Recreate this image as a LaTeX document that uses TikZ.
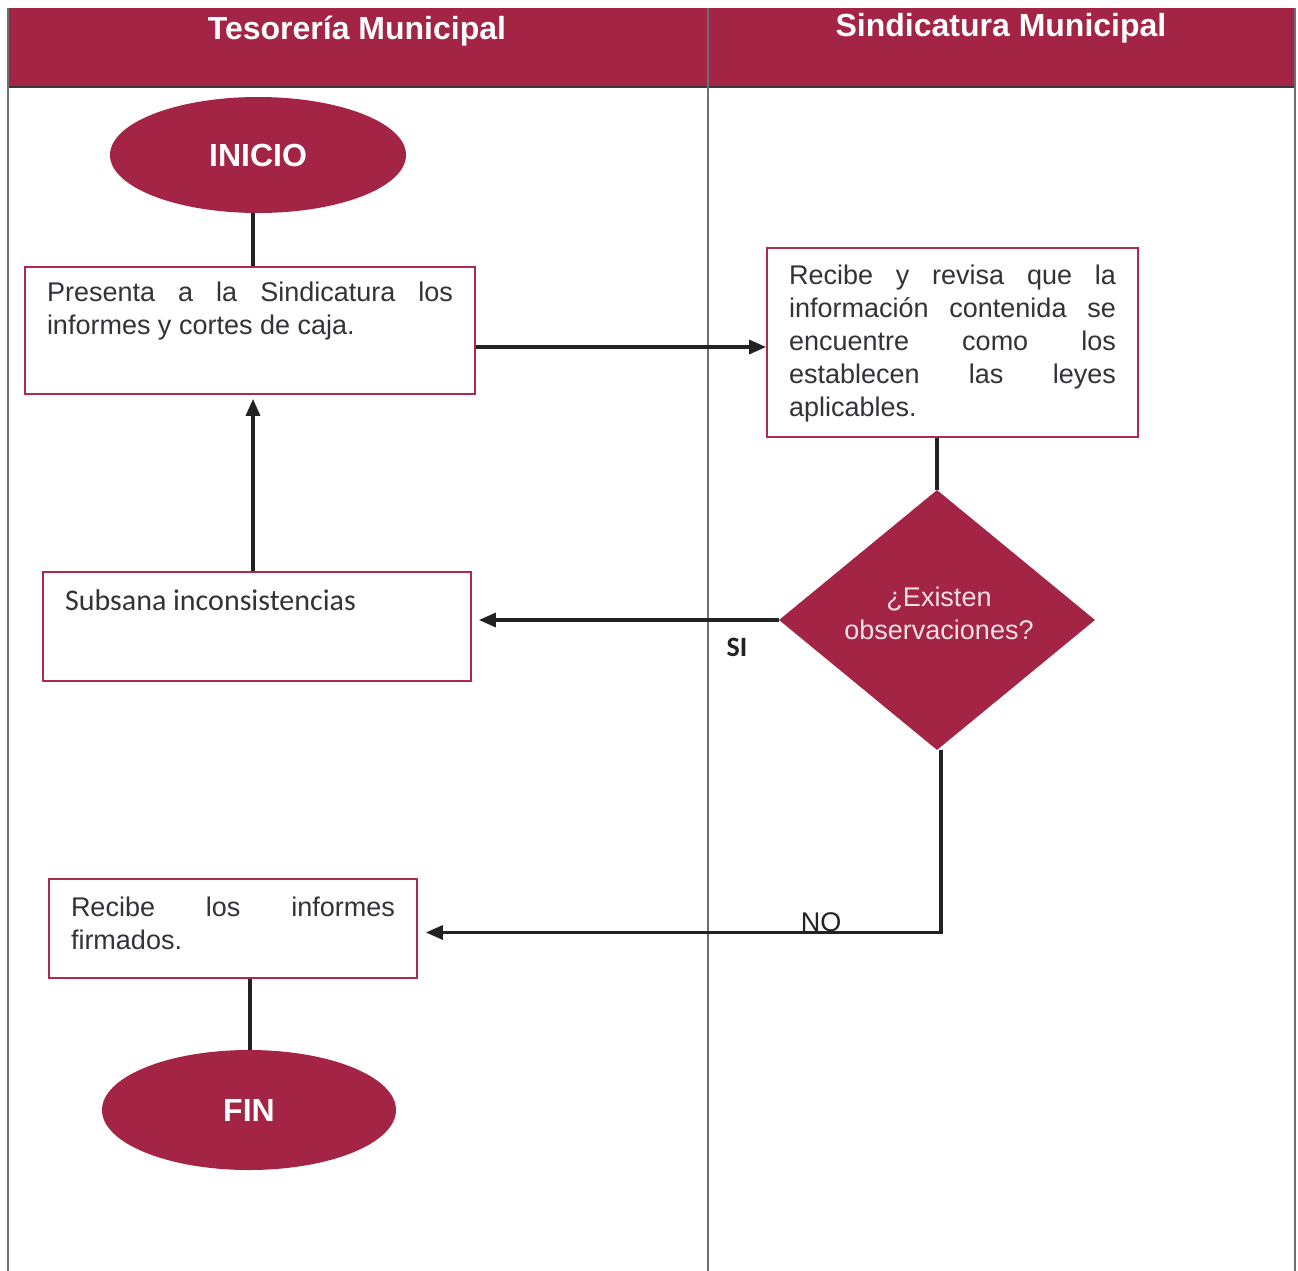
\documentclass[tikz,border=0pt]{standalone}
\usepackage{fontspec}
\setmainfont{Liberation Sans}
\newfontfamily\calibri{Carlito}
\usetikzlibrary{shapes.geometric,arrows.meta,calc}
\definecolor{burg}{RGB}{163,36,68}
\definecolor{burgline}{RGB}{172,42,76}
\definecolor{inktext}{RGB}{50,50,58}
\definecolor{connector}{RGB}{34,34,34}
\definecolor{rule}{RGB}{110,110,120}
\definecolor{paletext}{RGB}{240,225,230}
\hyphenpenalty=10000
\exhyphenpenalty=10000
\tolerance=10000
\hbadness=10000
\begin{document}
\begin{tikzpicture}[x=1pt,y=-1pt,
  stepbox/.style={draw=burgline,line width=1.8pt,fill=white,inner xsep=22pt,
    inner ysep=0pt,text=inktext,font=\fontsize{27}{33}\selectfont},
  terminal/.style={ellipse,fill=burg,text=white,inner sep=0pt,
    font=\fontsize{32}{38}\selectfont\bfseries},
  decision/.style={diamond,fill=burg,inner sep=0pt},
  question/.style={text=paletext,align=center,font=\fontsize{27}{33}\selectfont},
  link/.style={draw=connector,line width=3.2pt},
  arr/.style={link,-{Triangle[length=17pt,width=14pt]}},
  lanehead/.style={text=white,font=\fontsize{32}{38}\selectfont\bfseries,anchor=base},
  tag/.style={text=connector,anchor=base}]
\useasboundingbox (0,0) rectangle (1298,1271);
\fill[white] (0,0) rectangle (1298,1271);

% lane header band
\fill[burg] (8,8) rectangle (1295,87);
\draw[rule!50!black,line width=1.8pt] (8,87) -- (1295,87);
\node[lanehead] (hdrT) at (357,40) {Tesorería Municipal};
\node[lanehead] (hdrS) at (1001,37) {Sindicatura Municipal};

% lane rules
\draw[rule,line width=1.4pt] (8,8) -- (8,1271);
\draw[rule,line width=1.4pt] (1295,8) -- (1295,1271);
\draw[rule,line width=1.4pt] (708,8) -- (708,1271);

% steps
\node[terminal,minimum width=296pt,minimum height=116pt] (inicio) at (258,155) {INICIO};

\node[stepbox] (b1) at (250,330.5)
  {\parbox[c][127pt][t]{406pt}{\vspace*{15pt}Presenta a la Sindicatura los\linebreak informes y cortes de caja.}};

\node[stepbox] (b2) at (952.5,342.5)
  {\parbox[c][189pt][t]{327pt}{\vspace*{17pt}Recibe y revisa que la\linebreak información contenida se\linebreak encuentre como los\linebreak establecen las leyes\linebreak aplicables.}};

% decision with its question set a little above the centre
\node[decision,minimum width=316pt,minimum height=260pt] (dia) at (937,620) {};
\node[question] (diaq) at (939,613) {¿Existen\\observaciones?};

\node[stepbox,font=\calibri\fontsize{30}{36}\selectfont] (sub) at (257,626.5)
  {\parbox[c][109pt][t]{384pt}{\vspace*{18pt}Subsana inconsistencias}};

\node[stepbox] (rec) at (233,928.5)
  {\parbox[c][99pt][t]{324pt}{\vspace*{18pt}Recibe los informes\linebreak firmados.}};

\node[terminal,minimum width=294pt,minimum height=120pt] (fin) at (249,1110) {FIN};

% connector end points
\coordinate (iniout) at ($(inicio.south)+(-5,0)$);
\coordinate (b1out) at ($(b1.east)+(0,16.5)$);
\coordinate (subout) at ($(sub.north)+(-4,0)$);
\coordinate (diaout) at ($(dia.south)+(4,0)$);
\coordinate (recin) at ($(rec.east)+(0,4)$);
\coordinate (recout) at ($(rec.south)+(17,0)$);

% connectors
\draw[link] (iniout) -- (iniout |- b1.north);
\draw[arr] (b1out) -- (b1out -| b2.west);
\draw[link] (dia.north |- b2.south) -- (dia.north);
\draw[arr,shorten >=7pt] (dia.west) -- (dia.west -| sub.east);
\draw[arr,shorten >=4pt] (subout) -- (subout |- b1.south);
\draw[arr,shorten >=8pt] (diaout) |- (recin);
\draw[link] (recout) -- (recout |- fin.north);

% branch labels
\node[tag,font=\calibri\fontsize{28}{32}\selectfont\bfseries] (si) at (737,656) {SI};
\node[tag,font=\fontsize{27}{32}\selectfont] (no) at (821,931) {NO};
\end{tikzpicture}
\end{document}
